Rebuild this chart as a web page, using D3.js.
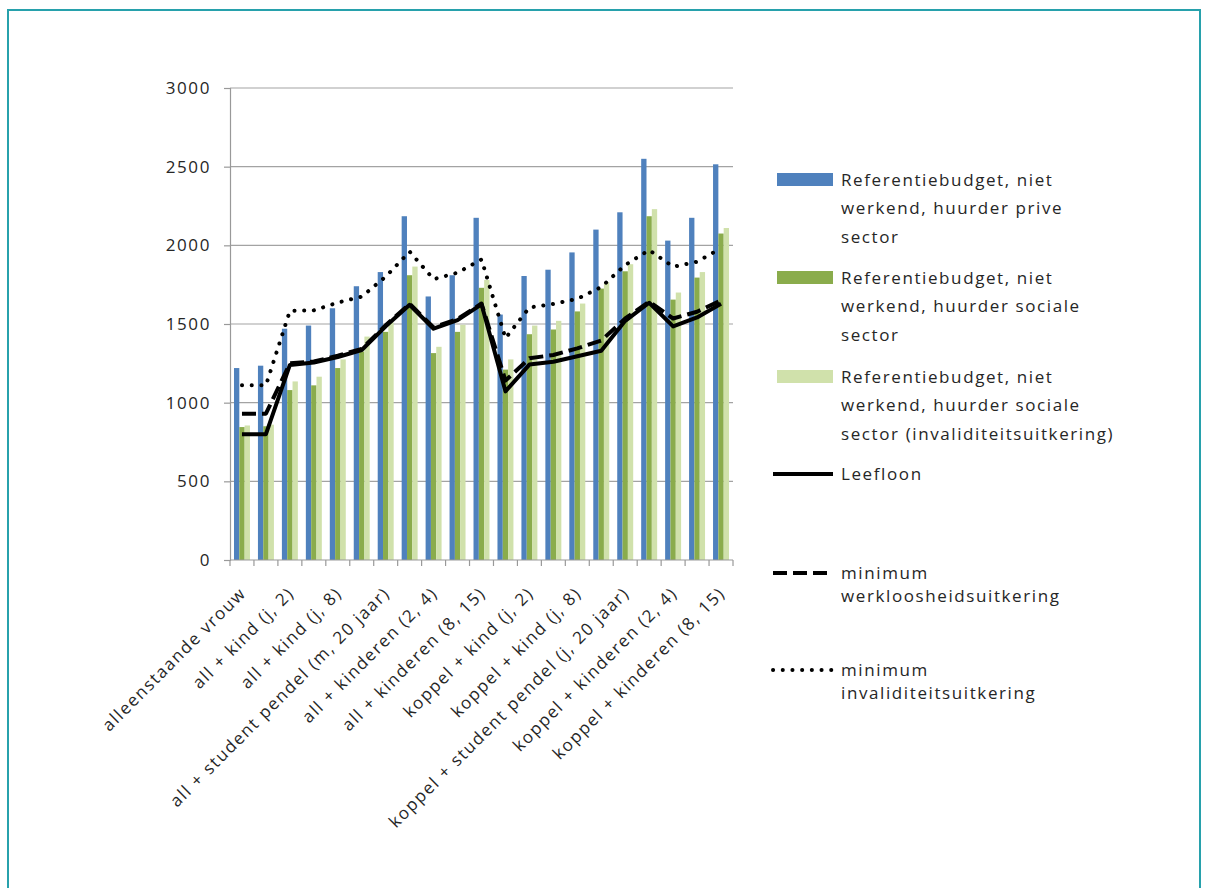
<!DOCTYPE html>
<html>
<head>
<meta charset="utf-8">
<script src="https://cdn.jsdelivr.net/npm/d3@7"></script>
<style>
  body { margin: 0; background: #fff; }
  text { font-family: "Open Sans", sans-serif; font-size: 17px; fill: #262626; letter-spacing: 1.6px; }
</style>
</head>
<body>
<svg id="chart" width="1208" height="888"></svg>
<script>
// Referentiebudgetten vs. minimumuitkeringen per huishoudtype (Excel-style combo chart)

const CATEGORIES = [
  "alleenstaande vrouw", "alleenstaande man",
  "all + kind (j, 2)", "all + kind (m, 5)",
  "all + kind (j, 8)", "all + kind (m, 14)",
  "all + student pendel (m, 20 jaar)", "all + student kot (m, 20 jaar)",
  "all + kinderen (2, 4)", "all + kinderen (5, 8)",
  "all + kinderen (8, 15)", "koppel",
  "koppel + kind (j, 2)", "koppel + kind (m, 5)",
  "koppel + kind (j, 8)", "koppel + kind (m, 14)",
  "koppel + student pendel (j, 20 jaar)", "koppel + student kot (j, 20 jaar)",
  "koppel + kinderen (2, 4)", "koppel + kinderen (5, 8)",
  "koppel + kinderen (8, 15)"
];

// bars
const PRIVE       = [1220, 1235, 1470, 1490, 1600, 1740, 1830, 2185, 1675, 1810, 2175, 1560, 1805, 1845, 1955, 2100, 2210, 2550, 2030, 2175, 2515];
const SOCIAAL     = [845, 850, 1080, 1110, 1220, 1325, 1450, 1810, 1315, 1450, 1730, 1210, 1435, 1465, 1580, 1725, 1835, 2185, 1655, 1795, 2075];
const SOCIAAL_INV = [855, 860, 1135, 1165, 1275, 1420, 1510, 1865, 1355, 1495, 1780, 1275, 1490, 1520, 1630, 1765, 1880, 2230, 1700, 1830, 2110];

// lines
const LEEFLOON     = [800, 800, 1240, 1255, 1290, 1335, 1485, 1622, 1470, 1525, 1625, 1072, 1242, 1260, 1295, 1330, 1520, 1635, 1485, 1542, 1628];
const WERKLOOSHEID = [930, 930, 1250, 1262, 1298, 1342, 1492, 1628, 1478, 1532, 1630, 1140, 1282, 1303, 1345, 1395, 1535, 1642, 1535, 1578, 1650];
const INVALIDITEIT = [1110, 1110, 1583, 1587, 1636, 1674, 1801, 1960, 1785, 1826, 1910, 1410, 1605, 1627, 1660, 1735, 1875, 1970, 1864, 1896, 1981];

const Y_TICKS = [0, 500, 1000, 1500, 2000, 2500, 3000];

const BAR_SERIES = [
  { key: "prive", values: PRIVE, color: "#4f81bd",
    label: ["Referentiebudget, niet", "werkend, huurder prive", "sector"] },
  { key: "sociaal", values: SOCIAAL, color: "#8aac4c",
    label: ["Referentiebudget, niet", "werkend, huurder sociale", "sector"] },
  { key: "sociaalInv", values: SOCIAAL_INV, color: "#d0e1ab",
    label: ["Referentiebudget, niet", "werkend, huurder sociale", "sector (invaliditeitsuitkering)"] }
];
const LINE_SERIES = [
  { key: "leefloon", values: LEEFLOON, dash: null, label: ["Leefloon"] },
  { key: "werkloosheid", values: WERKLOOSHEID, dash: "14,6", label: ["minimum", "werkloosheidsuitkering"] },
  { key: "invaliditeit", values: INVALIDITEIT, dash: "0.1,9.6", label: ["minimum", "invaliditeitsuitkering"] }
];

const svg = d3.select("#chart");
const PLOT = { left: 230, right: 733, top: 88, bottom: 560 };

// outer frame
svg.append("rect")
  .attr("x", 8).attr("y", 10).attr("width", 1192).attr("height", 900)
  .attr("fill", "#fff").attr("stroke", "#27a1ac").attr("stroke-width", 2);

const x = d3.scaleBand().domain(CATEGORIES).range([PLOT.left, PLOT.right]).padding(0);
const xs = d3.scaleBand().domain(BAR_SERIES.map(s => s.key))
  .range([0, x.bandwidth()]).paddingInner(0).paddingOuter(0.75);
const y = d3.scaleLinear().domain([0, 3000]).range([PLOT.bottom, PLOT.top]);

// gridlines
svg.append("g").selectAll("line")
  .data(Y_TICKS.filter(d => d > 0))
  .join("line")
    .attr("x1", PLOT.left).attr("x2", PLOT.right)
    .attr("y1", d => y(d)).attr("y2", d => y(d))
    .attr("stroke", "#a3a3a3").attr("stroke-width", 1.2);

// y axis
const yAxis = svg.append("g")
  .attr("transform", `translate(${PLOT.left},0)`)
  .call(d3.axisLeft(y).tickValues(Y_TICKS).tickFormat(d3.format("d")).tickSize(6).tickPadding(13));
yAxis.attr("font-size", null).attr("font-family", null);
yAxis.selectAll(".domain, .tick line").attr("stroke", "#999").attr("stroke-width", 1.2);
yAxis.selectAll("text").attr("fill", null);

// bars
const groups = svg.append("g").selectAll("g")
  .data(BAR_SERIES)
  .join("g")
    .attr("fill", s => s.color);
groups.selectAll("rect")
  .data(s => s.values.map((v, i) => ({ key: s.key, cat: CATEGORIES[i], v })))
  .join("rect")
    .attr("x", d => x(d.cat) + xs(d.key))
    .attr("width", xs.bandwidth())
    .attr("y", d => y(d.v))
    .attr("height", d => y(0) - y(d.v));

// x axis (Excel style: ticks between categories, every other label)
const xAxis = svg.append("g");
xAxis.append("line")
  .attr("x1", PLOT.left).attr("x2", PLOT.right)
  .attr("y1", PLOT.bottom).attr("y2", PLOT.bottom)
  .attr("stroke", "#999").attr("stroke-width", 1.2);
xAxis.selectAll("line.tick")
  .data(CATEGORIES.map(c => x(c)).concat([PLOT.right]))
  .join("line")
    .attr("class", "tick")
    .attr("x1", d => d).attr("x2", d => d)
    .attr("y1", PLOT.bottom).attr("y2", PLOT.bottom + 6)
    .attr("stroke", "#999").attr("stroke-width", 1.2);
xAxis.selectAll("text")
  .data(CATEGORIES.filter((c, i) => i % 2 === 0))
  .join("text")
    .attr("transform", c => `translate(${x(c) + x.bandwidth() / 2 + 1},${PLOT.bottom + 30}) rotate(-45)`)
    .attr("text-anchor", "end")
    .attr("dy", "0.35em")
    .text(c => c);

// lines
const line = d3.line()
  .x((d, i) => x(CATEGORIES[i]) + x.bandwidth() / 2)
  .y(d => y(d));
svg.append("g").selectAll("path")
  .data(LINE_SERIES)
  .join("path")
    .attr("d", s => line(s.values))
    .attr("fill", "none")
    .attr("stroke", "#000")
    .attr("stroke-width", 4)
    .attr("stroke-linejoin", "round")
    .attr("stroke-linecap", s => s.key === "invaliditeit" ? "round" : "butt")
    .attr("stroke-dasharray", s => s.dash);

// legend
const LEG = { swatchX: 777, swatchW: 56, textX: 841 };
const barRowY = [180, 278, 377];
const lineRowY = [474, 573, 670];
const legend = svg.append("g");

function legendText(lines, y0, spacing) {
  legend.append("text")
    .selectAll("tspan")
    .data(lines)
    .join("tspan")
      .attr("x", LEG.textX)
      .attr("y", (d, i) => y0 + i * spacing)
      .attr("dy", "0.35em")
      .text(d => d);
}

BAR_SERIES.forEach((s, k) => {
  const y0 = barRowY[k];
  legend.append("rect")
    .attr("x", LEG.swatchX).attr("y", y0 - 7)
    .attr("width", LEG.swatchW).attr("height", 13)
    .attr("fill", s.color);
  legendText(s.label, y0, 28.5);
});

LINE_SERIES.forEach((s, k) => {
  const y0 = lineRowY[k];
  legend.append("line")
    .attr("x1", LEG.swatchX - 4).attr("x2", LEG.swatchX + LEG.swatchW)
    .attr("y1", y0).attr("y2", y0)
    .attr("stroke", "#000").attr("stroke-width", 4)
    .attr("stroke-linecap", s.key === "invaliditeit" ? "round" : "butt")
    .attr("stroke-dasharray", s.dash);
  legendText(s.label, y0, 23);
});
</script>
</body>
</html>
